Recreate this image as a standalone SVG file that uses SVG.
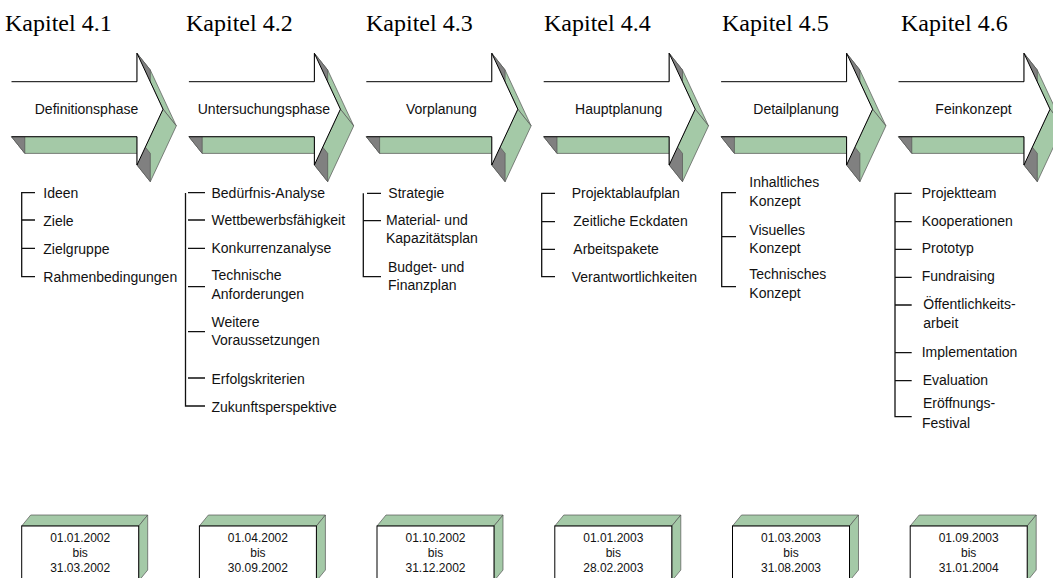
<svg xmlns="http://www.w3.org/2000/svg" xmlns:xlink="http://www.w3.org/1999/xlink" width="1053" height="578" viewBox="0 0 1053 578">
<style>
.hd{font-family:"Liberation Serif","Times New Roman",serif;font-size:24px;fill:#000}
.lb{font-family:"Liberation Sans",Arial,sans-serif;font-size:14px;fill:#111}
.ph{font-family:"Liberation Sans",Arial,sans-serif;font-size:14px;fill:#111;text-anchor:middle}
.dt{font-family:"Liberation Sans",Arial,sans-serif;font-size:12px;fill:#111;text-anchor:middle}
.gr{fill:#a4c9a7;stroke:#555;stroke-width:0.7;stroke-linejoin:round}
.dk{fill:#808080;stroke:#555;stroke-width:0.7;stroke-linejoin:round}
.fr{fill:#fff;stroke:none}
.ol{fill:none;stroke:#000;stroke-width:1}
.br{fill:none;stroke:#111;stroke-width:1.3}
.bx{fill:#fff;stroke:#000;stroke-width:1}
</style>
<defs>
<g id="arrow">
<path class="gr" d="M0,136.7 L125.5,136.7 L138.8,153.4 L13.3,153.4 Z"/>
<path class="gr" d="M125.5,53.3 L151.5,109.2 L164.8,125.9 L138.8,70 Z"/>
<path class="gr" d="M151.5,109.2 L125.5,165 L138.8,181.7 L164.8,125.9 Z"/>
<path class="dk" d="M0,136.7 L13.3,136.7 L13.3,153.4 Z"/>
<path class="dk" d="M125.5,53.3 L125.5,81.7 L138.8,98.4 L138.8,70 Z"/>
<path class="dk" d="M125.5,136.7 L125.5,165 L138.8,181.7 L138.8,153.4 Z"/>
<path class="fr" d="M0,81.7 L125.5,81.7 L125.5,53.3 L151.5,109.2 L125.5,165 L125.5,136.7 L0,136.7 Z"/>
<path class="ol" d="M0,81.7 H125.5 V53.3 L151.5,109.2 L125.5,165 V136.7 H0"/>
</g>
<g id="box">
<path class="gr" d="M0,526 L9,515 L126,515 L117,526 Z"/>
<path class="gr" d="M117,526 L126,515 L126,570 L117,581 Z"/>
<rect class="bx" x="0" y="526" width="117" height="60"/>
</g>
</defs>

<g id="headings">
<text class="hd" x="5" y="31">Kapitel 4.1</text>
<text class="hd" x="186" y="31">Kapitel 4.2</text>
<text class="hd" x="366" y="31">Kapitel 4.3</text>
<text class="hd" x="544" y="31">Kapitel 4.4</text>
<text class="hd" x="722" y="31">Kapitel 4.5</text>
<text class="hd" x="901" y="31">Kapitel 4.6</text>
</g>

<g id="phase1"><use xlink:href="#arrow" href="#arrow" x="11.5"/><text class="ph" x="86.5" y="114">Definitionsphase</text></g>
<g id="phase2"><use xlink:href="#arrow" href="#arrow" x="188.9"/><text class="ph" x="263.9" y="114">Untersuchungsphase</text></g>
<g id="phase3"><use xlink:href="#arrow" href="#arrow" x="366.3"/><text class="ph" x="441.3" y="114">Vorplanung</text></g>
<g id="phase4"><use xlink:href="#arrow" href="#arrow" x="543.7"/><text class="ph" x="618.7" y="114">Hauptplanung</text></g>
<g id="phase5"><use xlink:href="#arrow" href="#arrow" x="721.1"/><text class="ph" x="796.1" y="114">Detailplanung</text></g>
<g id="phase6"><use xlink:href="#arrow" href="#arrow" x="898.5"/><text class="ph" x="973.5" y="114">Feinkonzept</text></g>

<g id="connectors">
<path class="br" d="M35,192.7 H21.7 V276.7 H35 M21.7,220 H35 M21.7,248.3 H35"/>
<path class="br" d="M188,192.7 H205 M185.5,193 V406 H205 M188,220 H205 M188,248.3 H205 M188,286.7 H205 M188,331.7 H205 M188,378 H205"/>
<path class="br" d="M367,193.3 H381 M363.3,193.3 V276.7 H381 M363.3,220.7 H381"/>
<path class="br" d="M555,193.3 H541.7 V276.7 H555 M541.7,221.7 H555 M541.7,249.3 H555"/>
<path class="br" d="M736,192.7 H721.7 V286.7 H736 M721.7,236.7 H736"/>
<path class="br" d="M911.7,193.3 H895 V416.7 H911.7 M895,221.7 H911.7 M895,249.3 H911.7 M895,277.3 H911.7 M895,305 H911.7 M895,352.7 H911.7 M895,380.7 H911.7"/>
</g>

<g id="list1">
<text class="lb" x="43.3" y="198">Ideen</text>
<text class="lb" x="43.3" y="225.5">Ziele</text>
<text class="lb" x="43.3" y="253.5">Zielgruppe</text>
<text class="lb" x="43.3" y="281.5">Rahmenbedingungen</text>
</g>
<g id="list2">
<text class="lb" x="211.5" y="197.5">Bedürfnis-Analyse</text>
<text class="lb" x="211.5" y="225">Wettbewerbsfähigkeit</text>
<text class="lb" x="211.5" y="253">Konkurrenzanalyse</text>
<text class="lb" x="211.5" y="280">Technische</text>
<text class="lb" x="211.5" y="298.5">Anforderungen</text>
<text class="lb" x="211.5" y="326.5">Weitere</text>
<text class="lb" x="211.5" y="345">Voraussetzungen</text>
<text class="lb" x="211.5" y="384">Erfolgskriterien</text>
<text class="lb" x="211.5" y="412">Zukunftsperspektive</text>
</g>
<g id="list3">
<text class="lb" x="388.3" y="197.5">Strategie</text>
<text class="lb" x="386" y="224.5">Material- und</text>
<text class="lb" x="386" y="243">Kapazitätsplan</text>
<text class="lb" x="388" y="272">Budget- und</text>
<text class="lb" x="388" y="290">Finanzplan</text>
</g>
<g id="list4">
<text class="lb" x="571.7" y="197.5">Projektablaufplan</text>
<text class="lb" x="573.3" y="226">Zeitliche Eckdaten</text>
<text class="lb" x="573.3" y="253.5">Arbeitspakete</text>
<text class="lb" x="571.7" y="281.5">Verantwortlichkeiten</text>
</g>
<g id="list5">
<text class="lb" x="749.3" y="187">Inhaltliches</text>
<text class="lb" x="749.3" y="206">Konzept</text>
<text class="lb" x="749.3" y="234.5">Visuelles</text>
<text class="lb" x="749.3" y="253">Konzept</text>
<text class="lb" x="749.3" y="279">Technisches</text>
<text class="lb" x="749.3" y="298">Konzept</text>
</g>
<g id="list6">
<text class="lb" x="921.7" y="197.5">Projektteam</text>
<text class="lb" x="921.7" y="225.5">Kooperationen</text>
<text class="lb" x="921.7" y="253">Prototyp</text>
<text class="lb" x="921.7" y="281">Fundraising</text>
<text class="lb" x="923.3" y="309">Öffentlichkeits-</text>
<text class="lb" x="923.3" y="328">arbeit</text>
<text class="lb" x="921.7" y="357">Implementation</text>
<text class="lb" x="922.7" y="385">Evaluation</text>
<text class="lb" x="923" y="408">Eröffnungs-</text>
<text class="lb" x="922" y="428">Festival</text>
</g>

<g id="date1"><use xlink:href="#box" href="#box" x="21.7"/><text class="dt" x="80.2" y="541.7">01.01.2002</text><text class="dt" x="80.2" y="556.7">bis</text><text class="dt" x="80.2" y="571.7">31.03.2002</text></g>
<g id="date2"><use xlink:href="#box" href="#box" x="199.4"/><text class="dt" x="257.9" y="541.7">01.04.2002</text><text class="dt" x="257.9" y="556.7">bis</text><text class="dt" x="257.9" y="571.7">30.09.2002</text></g>
<g id="date3"><use xlink:href="#box" href="#box" x="377"/><text class="dt" x="435.5" y="541.7">01.10.2002</text><text class="dt" x="435.5" y="556.7">bis</text><text class="dt" x="435.5" y="571.7">31.12.2002</text></g>
<g id="date4"><use xlink:href="#box" href="#box" x="554.8"/><text class="dt" x="613.3" y="541.7">01.01.2003</text><text class="dt" x="613.3" y="556.7">bis</text><text class="dt" x="613.3" y="571.7">28.02.2003</text></g>
<g id="date5"><use xlink:href="#box" href="#box" x="732.5"/><text class="dt" x="791" y="541.7">01.03.2003</text><text class="dt" x="791" y="556.7">bis</text><text class="dt" x="791" y="571.7">31.08.2003</text></g>
<g id="date6"><use xlink:href="#box" href="#box" x="910.2"/><text class="dt" x="968.7" y="541.7">01.09.2003</text><text class="dt" x="968.7" y="556.7">bis</text><text class="dt" x="968.7" y="571.7">31.01.2004</text></g>
</svg>
